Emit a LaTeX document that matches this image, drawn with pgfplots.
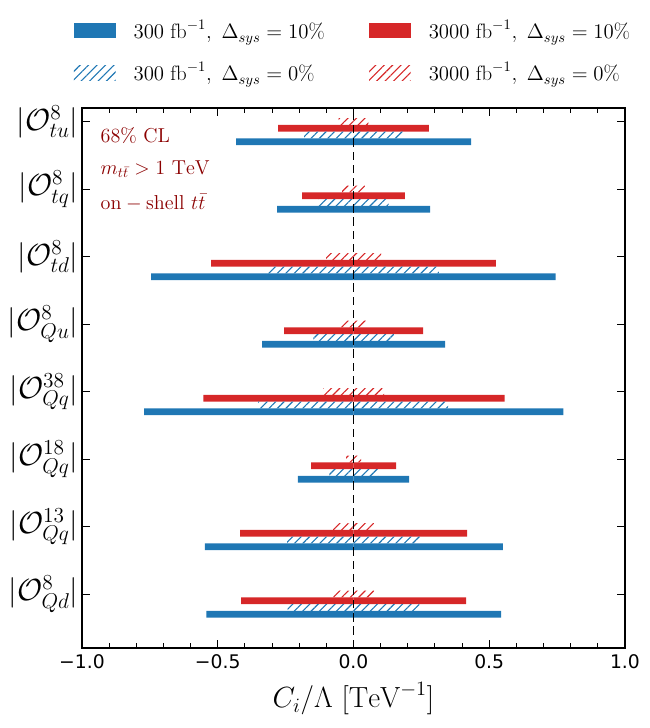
\RequirePackage{fix-cm}
\documentclass[border=0pt]{standalone}
\usepackage{fontspec}
\newfontfamily\dejavu{DejaVu Sans}
\usepackage{pgfplots}
\pgfplotsset{compat=1.18}
\usepackage{pgfplotstable}
\usetikzlibrary{patterns.meta}
\definecolor{mplblue}{HTML}{1F77B4}
\definecolor{mplred}{HTML}{D62728}
\definecolor{txtred}{RGB}{139,0,0}

% y = category index (7 = tu ... 0 = Qd), lo / hi = interval ends
\pgfplotstableread{
y lo hi
7 -0.432 0.433
6 -0.281 0.282
5 -0.745 0.745
4 -0.336 0.338
3 -0.771 0.773
2 -0.205 0.205
1 -0.547 0.550
0 -0.542 0.544
}\bluesolid
\pgfplotstableread{
y lo hi
7 -0.277 0.278
6 -0.189 0.189
5 -0.524 0.525
4 -0.255 0.257
3 -0.553 0.557
2 -0.156 0.157
1 -0.417 0.419
0 -0.414 0.415
}\redsolid
\pgfplotstableread{
y lo hi
7 -0.182 0.183
6 -0.129 0.130
5 -0.314 0.315
4 -0.148 0.149
3 -0.351 0.349
2 -0.089 0.091
1 -0.244 0.246
0 -0.242 0.243
}\bluehatch
\pgfplotstableread{
y lo hi
7 -0.055 0.055
6 -0.042 0.042
5 -0.101 0.102
4 -0.045 0.047
3 -0.112 0.113
2 -0.027 0.028
1 -0.075 0.076
0 -0.074 0.076
}\redhatch

\pgfplotsset{
  hatchblue/.style={draw=none, pattern={Lines[angle=45,distance=4.3pt,line width=0.8pt]}, pattern color=mplblue},
  hatchred/.style={draw=none, pattern={Lines[angle=45,distance=4.3pt,line width=0.8pt]}, pattern color=mplred},
  mybar/.style={xbar, bar width=0.1, bar shift=0pt, forget plot},
}

\begin{document}
\begin{tikzpicture}
\begin{axis}[
  scale only axis, width=391pt, height=388.8pt,
  xmin=-1, xmax=1, ymin=-0.8, ymax=7.2,
  xtick={-1,-0.5,0,0.5,1},
  xticklabels={−1.0,−0.5,0.0,0.5,1.0},
  minor x tick num=4,
  ytick={0,1,2,3,4,5,6,7},
  yticklabels={$|\mathcal{O}^{8}_{Qd}|$,$|\mathcal{O}^{13}_{Qq}|$,$|\mathcal{O}^{18}_{Qq}|$,$|\mathcal{O}^{38}_{Qq}|$,$|\mathcal{O}^{8}_{Qu}|$,$|\mathcal{O}^{8}_{td}|$,$|\mathcal{O}^{8}_{tq}|$,$|\mathcal{O}^{8}_{tu}|$},
  tick align=inside,
  major tick length=6pt, minor tick length=3.5pt,
  tick style={black, line width=0.7pt},
  axis line style={line width=0.9pt},
  xticklabel style={font=\dejavu\fontsize{13.5}{16}\selectfont, yshift=-1.3pt},
  yticklabel style={font=\fontsize{22}{26}\selectfont, inner sep=1.5pt, xshift=-1pt},
  xlabel={$C_i/\Lambda\ [\mathrm{TeV}^{-1}]$},
  every axis x label/.style={at={(axis description cs:0.5,0)}, anchor=base, yshift=-43pt, font=\fontsize{21}{25}\selectfont},
  legend columns=2,
  legend image code/.code={\path[#1] (0pt,-5.5pt) rectangle (30pt,5.5pt);},
  legend style={at={(axis description cs:0,1)}, anchor=south west, xshift=-5.8pt, yshift=16pt,
    draw=none, fill=none, inner sep=0pt, outer sep=0pt,
    font=\fontsize{15}{18}\selectfont,
    /tikz/every odd column/.append style={column sep=11pt},
    /tikz/every even column/.append style={column sep=30pt},
    row sep=11.5pt},
  legend cell align=left,
]
\addlegendimage{fill=mplblue, draw=none}
\addlegendentry{$300\ \mathrm{fb}^{-1},\ \Delta_{sys}=10\%$}
\addlegendimage{fill=mplred, draw=none}
\addlegendentry{$3000\ \mathrm{fb}^{-1},\ \Delta_{sys}=10\%$}
\addlegendimage{hatchblue}
\addlegendentry{$300\ \mathrm{fb}^{-1},\ \Delta_{sys}=0\%$}
\addlegendimage{hatchred}
\addlegendentry{$3000\ \mathrm{fb}^{-1},\ \Delta_{sys}=0\%$}

% red hatched (3000 fb^-1, 0%)
\addplot[mybar, hatchred] table[x=lo, y expr=\thisrow{y}]{\redhatch};
\addplot[mybar, hatchred] table[x=hi, y expr=\thisrow{y}]{\redhatch};
% red solid (3000 fb^-1, 10%)
\addplot[mybar, draw=none, fill=mplred] table[x=lo, y expr=\thisrow{y}-0.1]{\redsolid};
\addplot[mybar, draw=none, fill=mplred] table[x=hi, y expr=\thisrow{y}-0.1]{\redsolid};
% blue hatched (300 fb^-1, 0%)
\addplot[mybar, hatchblue] table[x=lo, y expr=\thisrow{y}-0.2]{\bluehatch};
\addplot[mybar, hatchblue] table[x=hi, y expr=\thisrow{y}-0.2]{\bluehatch};
% blue solid (300 fb^-1, 10%)
\addplot[mybar, draw=none, fill=mplblue] table[x=lo, y expr=\thisrow{y}-0.3]{\bluesolid};
\addplot[mybar, draw=none, fill=mplblue] table[x=hi, y expr=\thisrow{y}-0.3]{\bluesolid};

% zero line
\addplot[black, line width=1.2pt, dash pattern=on 6pt off 3.5pt, forget plot] coordinates {(0,-0.8) (0,7.2)};

\node[anchor=base west, text=txtred, font=\fontsize{14.5}{17}\selectfont, xshift=10pt, yshift=-24.5pt] at (axis description cs:0,1) {68\% CL};
\node[anchor=base west, text=txtred, font=\fontsize{14.5}{17}\selectfont, xshift=10pt, yshift=-47.5pt] at (axis description cs:0,1) {$m_{t\bar{t}} > 1\ \mathrm{TeV}$};
\node[anchor=base west, text=txtred, font=\fontsize{14.5}{17}\selectfont, xshift=10pt, yshift=-72.7pt] at (axis description cs:0,1) {$\mathrm{on}-\mathrm{shell}\ t\bar{t}$};
\end{axis}
\pgfresetboundingbox
\useasboundingbox (-59pt,-57.6pt) rectangle (409pt,466.6pt);
\end{tikzpicture}
\end{document}
